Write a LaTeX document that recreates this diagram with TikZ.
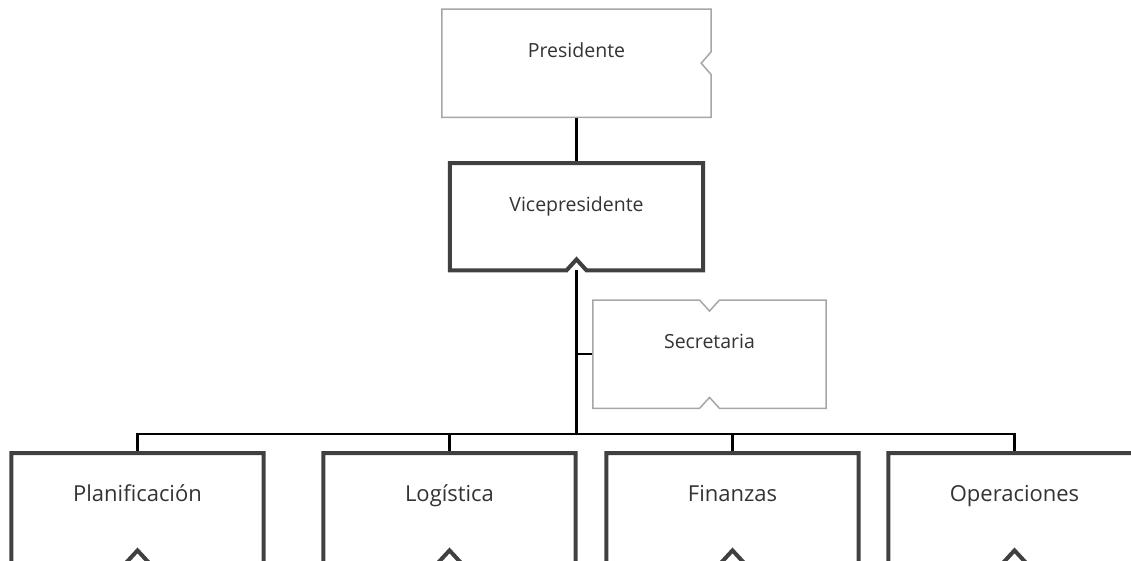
\documentclass[tikz,border=0pt]{standalone}
\usepackage{fontspec}
\setmainfont{Open Sans}
\usetikzlibrary{positioning}

\definecolor{boxdark}{HTML}{404040}
\definecolor{boxlite}{HTML}{A6A6A6}
\definecolor{txtgray}{HTML}{333333}

\tikzset{
  unit/.style={inner xsep=0pt, inner ysep=0pt, anchor=north,
    text height=48pt, text depth=60pt, text=txtgray},
  small/.style={font=\fontsize{19.5}{23}\selectfont},
  big/.style={font=\fontsize{22}{26}\selectfont},
  lite/.style={draw=boxlite, line width=1.5pt, line join=miter},
  heavy/.style={draw=boxdark, line width=4pt, line join=miter},
  link/.style={draw=black, line width=2.4pt},
}

\begin{document}
\begin{tikzpicture}[x=1pt, y=-1pt]
      \useasboundingbox (0,0) rectangle (1131,560);

      \node[unit, small, minimum width=269pt] (pres) at (576.5, 9) {Presidente};
      \node[unit, small, minimum width=253pt, text depth=59pt] (vp) at (576.5, 163) {Vicepresidente};
      \node[unit, small, minimum width=233pt] (sec) at (709.5, 300) {Secretaria};
      \coordinate (bus) at (576.5, 434);

      \foreach \n/\x/\t in {plan/137.5/Planificación, log/449.5/Logística,
                           fin/732.5/Finanzas, ope/1014.5/Operaciones}{
        \node[unit, big, minimum width=252pt, text depth=62pt] (\n) at (\x, 453) {\t};
        \draw[link] (bus) -| (\n.north);
        \draw[heavy] (\n.north west) -- (\n.north east) -- (\n.south east)
          -- ([xshift=12pt]\n.south) -- ([yshift=13pt]\n.south)
          -- ([xshift=-12pt]\n.south) -- (\n.south west) -- cycle;
      }

      % lines
      \draw[link] (pres.south) -- (vp.north);
      \draw[link] (vp.south) -- (bus);
      \draw[link] (sec.west) -- (sec.west -| bus);

      % outlines
      \draw[lite] (pres.north west) -- (pres.north east)
        -- ([yshift=11.5pt]pres.east) -- ([xshift=-10pt]pres.east)
        -- ([yshift=-11.5pt]pres.east) -- (pres.south east)
        -- (pres.south west) -- cycle;
      \draw[heavy] (vp.north west) -- (vp.north east) -- (vp.south east)
        -- ([xshift=10pt]vp.south) -- ([yshift=11pt]vp.south)
        -- ([xshift=-10pt]vp.south) -- (vp.south west) -- cycle;
      \draw[lite] (sec.north west) -- ([xshift=-10pt]sec.north)
        -- ([yshift=-11pt]sec.north) -- ([xshift=10pt]sec.north)
        -- (sec.north east) -- (sec.south east)
        -- ([xshift=10pt]sec.south) -- ([yshift=11pt]sec.south)
        -- ([xshift=-10pt]sec.south) -- (sec.south west) -- cycle;
\end{tikzpicture}
\end{document}
